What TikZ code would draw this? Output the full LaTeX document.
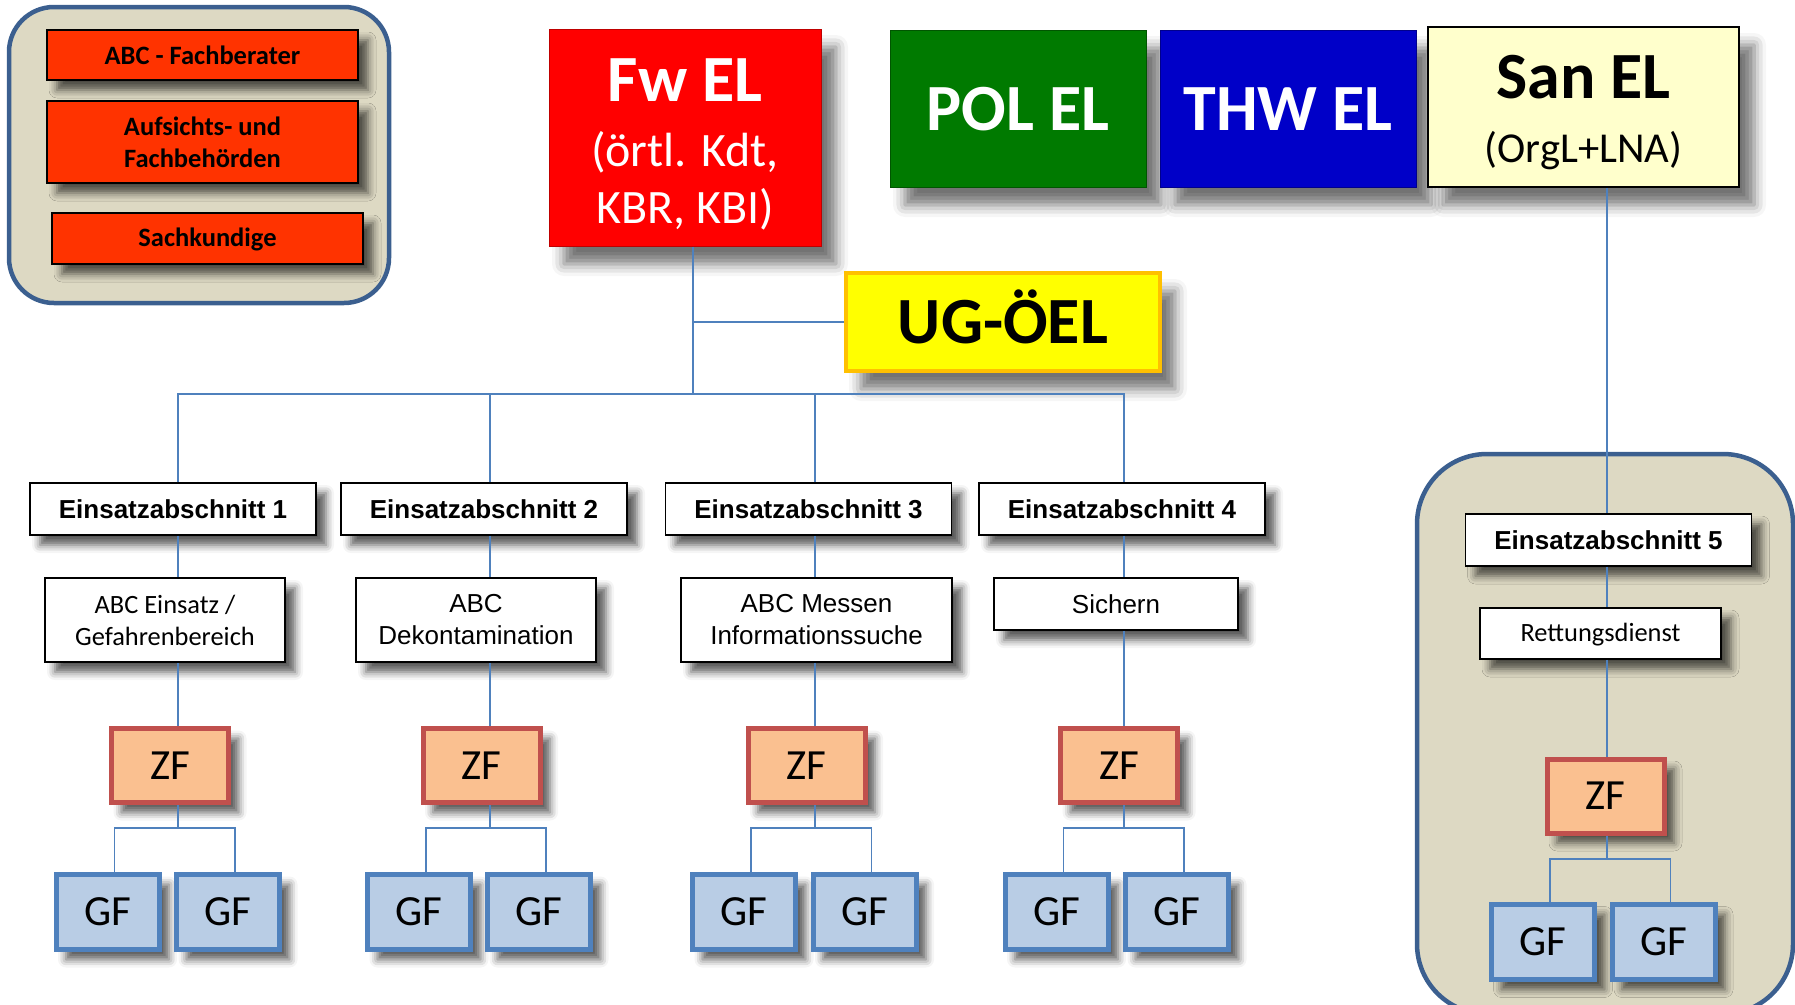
\documentclass[tikz,border=0pt]{standalone}
\usepackage{fontspec}
\setmainfont{Carlito}
\newfontfamily\arialfont{Liberation Sans}
\usetikzlibrary{shadows.blur}
\definecolor{rbred}{HTML}{FF3300}
\definecolor{fwred}{HTML}{FF0000}
\definecolor{polgreen}{HTML}{007A00}
\definecolor{thwblue}{HTML}{0000C8}
\definecolor{sanyellow}{HTML}{FFFFCC}
\definecolor{ugyellow}{HTML}{FFFF00}
\definecolor{ugborder}{HTML}{FFC000}
\definecolor{contfill}{HTML}{DDD9C3}
\definecolor{contborder}{HTML}{3B5F8F}
\definecolor{zffill}{HTML}{FAC090}
\definecolor{zfborder}{HTML}{C0504D}
\definecolor{gffill}{HTML}{B9CDE5}
\definecolor{gfborder}{HTML}{4F81BD}
\definecolor{lineblue}{HTML}{4F81BD}
\begin{document}
\begin{tikzpicture}[x=1pt,y=-1pt,
  box/.style={draw, rectangle, inner sep=0pt, align=center},
  sh/.style={blur shadow={shadow xshift=10pt, shadow yshift=-10pt, shadow blur radius=8pt, shadow opacity=65}},
  bigsh/.style={blur shadow={shadow xshift=15pt, shadow yshift=-18pt, shadow blur radius=12pt, shadow opacity=55}},
  container/.style={draw=contborder, fill=contfill, line width=4.5pt, rectangle, inner sep=0pt},
  redbox/.style={box, fill=rbred, draw=black, line width=1.5pt, minimum width=311pt, font=\fontsize{26.5}{32}\selectfont\bfseries, sh},
  elbox/.style={box, minimum width=256pt, minimum height=157pt, bigsh},
  eabox/.style={box, fill=white, draw=black, line width=1.5pt, minimum width=286pt, minimum height=52pt, font=\arialfont\bfseries\fontsize{26}{30}\selectfont, sh},
  subbox/.style={box, fill=white, draw=black, line width=1.5pt, sh},
  calfont/.style={font=\fontsize{26.4}{32}\selectfont},
  arfont/.style={font=\arialfont\fontsize{26}{32}\selectfont},
  zfbox/.style={box, fill=zffill, draw=zfborder, line width=5pt, minimum width=117pt, minimum height=74pt, font=\fontsize{43}{43}\selectfont, sh},
  gfbox/.style={box, fill=gffill, draw=gfborder, line width=5pt, minimum width=103pt, minimum height=75pt, font=\fontsize{43}{43}\selectfont, sh},
  conn/.style={draw=lineblue, line width=1.6pt}
]
\useasboundingbox (0,0) rectangle (1795,1004);

% group containers
\node[container, rounded corners=45pt, minimum width=380pt, minimum height=296pt] (grpA) at (199,155) {};
\node[container, rounded corners=70pt, minimum width=376pt, minimum height=560pt] (grpB) at (1605,734) {};

% advisers
\node[redbox, minimum height=50pt] (r1) at (202.5,55) {ABC - Fachberater};
\node[redbox, minimum height=82pt] (r2) at (202.5,142) {Aufsichts- und\\Fachbehörden};
\node[redbox, minimum height=51pt] (r3) at (207.5,238.5) {\rule{0pt}{20pt}Sachkundige};

% top leaders
\node[box, fill=fwred, draw=fwred!75!black, line width=1pt, minimum width=272pt, minimum height=217pt,
      text=white, font=\fontsize{48}{57}\selectfont, bigsh] (fwel) at (685,137.5)
      {\rule{0pt}{57pt}{\fontsize{66}{66}\selectfont\bfseries Fw EL}\\[8pt](örtl. Kdt,\\KBR, KBI)};
\node[elbox, fill=polgreen, draw=polgreen!70!black, line width=1pt, text=white,
      font=\fontsize{66}{66}\selectfont\bfseries, text height=44.5pt, text depth=0pt] (polel) at (1018,108.5) {POL EL};
\node[elbox, fill=thwblue, draw=thwblue!70!black, line width=1pt, text=white,
      font=\fontsize{66}{66}\selectfont\bfseries, text height=44.5pt, text depth=0pt] (thwel) at (1288,108.5) {THW EL};
\node[box, fill=sanyellow, draw=black, line width=1.5pt, minimum width=311pt, minimum height=160pt,
      font=\fontsize{42.6}{64}\selectfont, bigsh] (sanel) at (1583.5,107)
      {\rule{0pt}{54pt}{\fontsize{66}{66}\selectfont\bfseries San EL}\\(OrgL+LNA)};
\node[box, fill=ugyellow, draw=ugborder, line width=4pt, minimum width=314pt, minimum height=98pt,
      font=\fontsize{66}{66}\selectfont\bfseries, text height=43pt, text depth=0pt, bigsh] (ugoel) at (1003,322) {UG-ÖEL};

% Einsatzabschnitte
\node[eabox] (ea1) at (173,509) {Einsatzabschnitt 1};
\node[eabox] (ea2) at (484,509) {Einsatzabschnitt 2};
\node[eabox] (ea3) at (808.5,509) {Einsatzabschnitt 3};
\node[eabox] (ea4) at (1122,509) {Einsatzabschnitt 4};
\node[eabox] (ea5) at (1608.5,540) {Einsatzabschnitt 5};

% tasks
\node[subbox, calfont, minimum width=240pt, minimum height=84pt] (sub1) at (165,620) {ABC Einsatz /\\Gefahrenbereich};
\node[subbox, arfont, minimum width=240pt, minimum height=84pt] (sub2) at (476,620) {ABC\\Dekontamination};
\node[subbox, arfont, minimum width=271pt, minimum height=84pt] (sub3) at (816.5,620) {ABC Messen\\Informationssuche};
\node[subbox, arfont, minimum width=244pt, minimum height=52pt] (sub4) at (1116,604) {Sichern};
\node[subbox, calfont, minimum width=241pt, minimum height=51pt] (sub5) at (1600.5,633.5) {\rule{0pt}{21pt}Rettungsdienst};

% ZF
\node[zfbox] (zf1) at (170,765.5) {ZF};
\node[zfbox] (zf2) at (481.5,765.5) {ZF};
\node[zfbox] (zf3) at (806.5,765.5) {ZF};
\node[zfbox] (zf4) at (1119,765.5) {ZF};
\node[zfbox] (zf5) at (1605.5,796) {ZF};

% GF
\node[gfbox] (gf1a) at (107.5,912) {GF};
\node[gfbox] (gf1b) at (228,912) {GF};
\node[gfbox] (gf2a) at (419,912) {GF};
\node[gfbox] (gf2b) at (539,912) {GF};
\node[gfbox] (gf3a) at (744,912) {GF};
\node[gfbox] (gf3b) at (864.5,912) {GF};
\node[gfbox] (gf4a) at (1056.5,912) {GF};
\node[gfbox] (gf4b) at (1177,912) {GF};
\node[gfbox] (gf5a) at (1543,942) {GF};
\node[gfbox] (gf5b) at (1663.5,942) {GF};

% column lines
\coordinate (c1) at (178,0);
\coordinate (c2) at (490,0);
\coordinate (c3) at (815,0);
\coordinate (c4) at (1124,0);
\coordinate (c5) at (1607,0);
\coordinate (fwx) at (693,0);
\coordinate (bus) at (693,394);

% connectors
\draw[conn] (fwel.south -| fwx) -- (bus);
\draw[conn] (ugoel.west) -- (ugoel.west -| fwx);
\draw[conn] (ea1.north -| c1) |- (bus) -| (ea4.north -| c4);
\draw[conn] (ea2.north -| c2) -- (bus -| c2);
\draw[conn] (ea3.north -| c3) -- (bus -| c3);
\draw[conn] (sanel.south -| c5) -- (ea5.north -| c5);

\foreach \i/\fy in {1/828,2/828,3/828,4/828,5/859} {
  \path (c\i |- 0,\fy) coordinate (f\i);
  \draw[conn] (ea\i.south -| c\i) -- (sub\i.north -| c\i);
  \draw[conn] (sub\i.south -| c\i) -- (zf\i.north -| c\i);
  \draw[conn] (zf\i.south -| c\i) -- (f\i);
  \draw[conn] ([xshift=7pt]gf\i a.north) |- (f\i) -| ([xshift=7pt]gf\i b.north);
}
\end{tikzpicture}
\end{document}
